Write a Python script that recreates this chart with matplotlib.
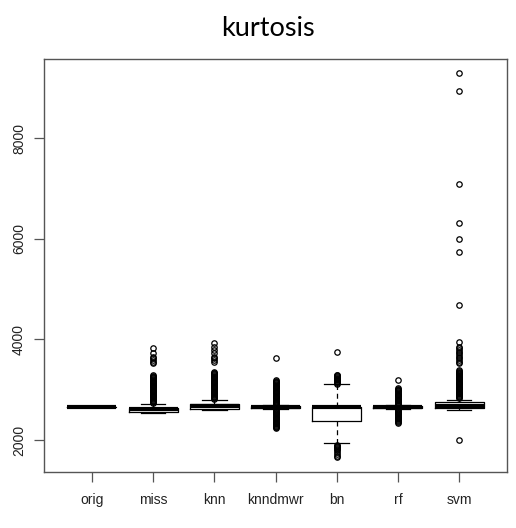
import numpy as np
import matplotlib
matplotlib.use("Agg")
import matplotlib.pyplot as plt

# 各方法的箱线统计量（四分位、须线端点、离群点）
methods = ["orig", "miss", "knn", "knndmwr", "bn", "rf", "svm"]
q1 = [2650, 2555, 2620, 2640, 2384, 2640, 2630]
medians = [2650, 2610, 2668, 2655, 2650, 2655, 2680]
q3 = [2650, 2640, 2710, 2670, 2663, 2668, 2762]
whis_lo = [2650, 2530, 2595, 2625, 1934, 2625, 2600]
whis_hi = [2650, 2710, 2796, 2690, 3108, 2690, 2796]

fliers_orig = []
fliers_miss = [2735, 2752, 2768, 2785, 2801, 2818, 2834, 2851, 2867, 2884,
               2900, 2917, 2933, 2950, 2966, 2983, 2999, 3016, 3032, 3049,
               3065, 3082, 3098, 3115, 3131, 3148, 3164, 3181, 3197, 3214,
               3230, 3247, 3263, 3280, 3292,
               3527, 3560, 3592, 3625, 3657, 3725, 3825]
fliers_knn = [2815, 2832, 2848, 2865, 2881, 2898, 2914, 2931, 2947, 2964,
              2980, 2997, 3013, 3030, 3046, 3063, 3079, 3096, 3112, 3129,
              3145, 3162, 3178, 3195, 3211, 3228, 3244, 3261, 3277, 3294,
              3310, 3327, 3343, 3360,
              3558, 3592, 3625, 3660, 3725, 3791, 3857, 3936]
fliers_knndmwr = [2700, 2716, 2733, 2749, 2766, 2782, 2799, 2815, 2832,
                  2848, 2865, 2881, 2898, 2914, 2931, 2947, 2964, 2980,
                  2997, 3013, 3030, 3046, 3063, 3079, 3096, 3112, 3129,
                  3145, 3162, 3178, 3194, 3626,
                  2612, 2596, 2579, 2563, 2546, 2530, 2513, 2497, 2480,
                  2464, 2447, 2431, 2414, 2398, 2381, 2365, 2348, 2332,
                  2315, 2299, 2282, 2266, 2249, 2233]
fliers_bn = [3122, 3138, 3155, 3171, 3188, 3204, 3221, 3237, 3254, 3270,
             3287, 3294, 3745,
             1905, 1890, 1874, 1858, 1842, 1826, 1800, 1760, 1720, 1690,
             1668]
fliers_rf = [2706, 2722, 2739, 2755, 2772, 2788, 2805, 2821, 2838, 2854,
             2871, 2887, 2904, 2920, 2937, 2953, 2970, 2986, 3003, 3019,
             3029, 3194,
             2612, 2596, 2579, 2563, 2546, 2530, 2513, 2497, 2480, 2464,
             2447, 2431, 2414, 2398, 2381, 2365, 2348]
fliers_svm = [2830, 2846, 2863, 2879, 2896, 2912, 2929, 2945, 2962, 2978,
              2995, 3011, 3028, 3044, 3061, 3077, 3094, 3110, 3127, 3143,
              3160, 3176, 3193, 3209, 3226, 3242, 3259, 3275, 3292, 3308,
              3325, 3341, 3358, 3374, 3393,
              3527, 3558, 3592, 3625, 3657, 3691, 3725, 3757, 3791, 3825,
              3857, 3956, 4687, 5748, 6006, 6312, 7095, 8937, 9297, 2000]
fliers = [fliers_orig, fliers_miss, fliers_knn, fliers_knndmwr,
          fliers_bn, fliers_rf, fliers_svm]

stats = []
for i, name in enumerate(methods):
    stats.append({
        "label": name,
        "q1": q1[i], "med": medians[i], "q3": q3[i],
        "whislo": whis_lo[i], "whishi": whis_hi[i],
        "fliers": fliers[i],
    })

fig = plt.figure(figsize=(5.16, 5.28), dpi=100)
ax = fig.add_axes([44 / 516, 1 - 472 / 528, 463 / 516, 413 / 528])

ax.bxp(stats, positions=range(1, 8), widths=0.8, capwidths=0.4,
       boxprops=dict(color="black", linewidth=0.9),
       medianprops=dict(color="black", linewidth=3.0, solid_capstyle="butt"),
       whiskerprops=dict(color="black", linewidth=0.9, linestyle=(0, (4, 3))),
       capprops=dict(color="black", linewidth=0.9),
       flierprops=dict(marker="o", markersize=3.9, markerfacecolor="none",
                       markeredgecolor="black", markeredgewidth=0.9))

ax.set_xlim(0.22, 7.78)
ax.set_ylim(1363, 9582)
ax.set_yticks([2000, 4000, 6000, 8000])
ax.set_xticks(range(1, 8))
ax.set_xticklabels(methods)

tick_font = dict(family="Liberation Sans", size=10, color="#222222")
for lab in ax.get_xticklabels():
    lab.set(**tick_font)
for lab in ax.get_yticklabels():
    lab.set(**tick_font)
    lab.set_rotation(90)
    lab.set_verticalalignment("center")

ax.tick_params(axis="both", length=7, width=0.9, color="#555555", pad=8)
ax.tick_params(axis="y", pad=6)
for sp in ax.spines.values():
    sp.set_color("#555555")
    sp.set_linewidth(1.0)

fig.text(268 / 516, 1 - 28 / 528, "kurtosis", ha="center", va="center",
         fontsize=19.5, family="Lato", color="black")

fig.savefig("out.png", dpi=100)
